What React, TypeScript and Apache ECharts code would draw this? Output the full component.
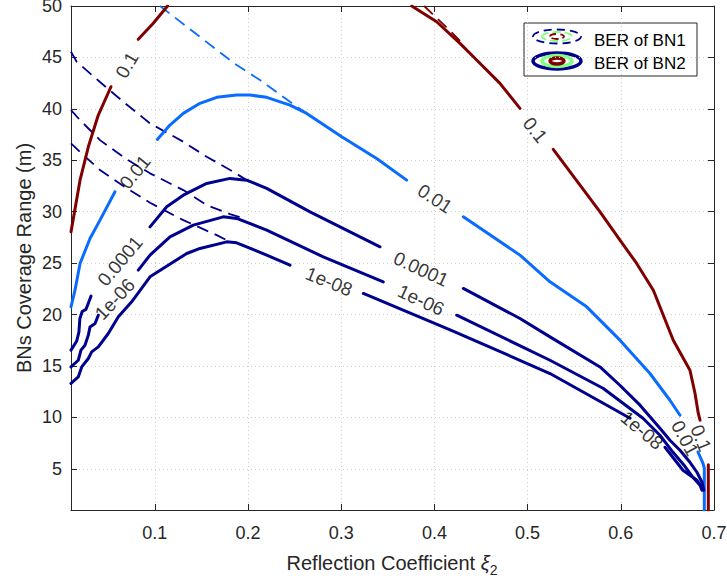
import React, { useEffect, useRef } from 'react';
import * as echarts from 'echarts';

const X_TICKS = [0.1, 0.2, 0.3, 0.4, 0.5, 0.6, 0.7];
const Y_TICKS = [5, 10, 15, 20, 25, 30, 35, 40, 45, 50];

// BN2 (solid) contour lines, split where the inline labels sit
const bn2Level0p1 = [
  [[0.010, 28.04], [0.0197, 33.07], [0.0286, 36.31], [0.0393, 39.40], [0.0529, 42.15]],
  [[0.0822, 46.76], [0.0983, 48.32], [0.1136, 50.0]],
  [[0.3756, 50.0], [0.4024, 48.47], [0.4274, 46.37], [0.4453, 44.75], [0.4703, 42.48], [0.4918, 40.05]],
  [[0.5275, 36.06], [0.5777, 29.99], [0.5991, 27.24], [0.6170, 24.97], [0.6349, 22.37], [0.6563, 17.51], [0.6742, 14.59], [0.6796, 12.35], [0.6831, 10.41], [0.6850, 9.73]],
  [[0.6939, 5.4], [0.6939, 1.0]],
];
const bn2Level0p01 = [
  [[0.010, 20.75], [0.0143, 22.37], [0.0197, 24.97], [0.0304, 27.40], [0.0411, 29.18], [0.0572, 31.94]],
  [[0.1026, 37.03], [0.1162, 38.42], [0.1305, 39.56], [0.1484, 40.54], [0.1664, 41.12], [0.1878, 41.34], [0.2021, 41.34], [0.2200, 41.12], [0.2450, 40.37], [0.2629, 39.56], [0.3005, 37.29], [0.3380, 35.18], [0.3702, 33.07]],
  [[0.4310, 29.50], [0.4918, 25.78], [0.5240, 23.18], [0.5634, 20.75], [0.5991, 17.51], [0.6313, 14.27], [0.6527, 11.67], [0.6635, 10.21]],
  [[0.6828, 6.64], [0.6882, 5.54], [0.6896, 5.06], [0.6896, 1.0]],
];
const bn2Level1em4 = [
  [[0.010, 16.54], [0.016, 17.4], [0.0185, 18.3], [0.0195, 19.6], [0.022, 20.3], [0.026, 20.5], [0.029, 21.2], [0.0315, 21.8]],
  [[0.0948, 28.53], [0.1127, 30.48], [0.1305, 31.61], [0.1556, 32.75], [0.1806, 33.24], [0.1985, 33.07], [0.2200, 32.27], [0.2665, 29.99], [0.3416, 26.59]],
  [[0.4310, 22.54], [0.4918, 19.62], [0.5240, 17.83], [0.5777, 14.91], [0.599, 13.13], [0.6206, 11.19], [0.642, 8.95], [0.6527, 7.78], [0.6635, 6.81], [0.6742, 5.64], [0.6817, 4.67], [0.6871, 3.70], [0.6892, 2.92]],
];
const bn2Level1em6 = [
  [[0.010, 14.91], [0.0178, 15.56], [0.0207, 16.54], [0.0250, 17.02], [0.0286, 18.00], [0.0304, 18.80], [0.0358, 19.13], [0.0393, 19.94]],
  [[0.0822, 24.32], [0.0948, 25.78], [0.1162, 27.56], [0.1412, 28.70], [0.1734, 29.50], [0.1878, 29.35], [0.2200, 28.21], [0.2807, 25.61], [0.3451, 23.18]],
  [[0.4239, 19.94], [0.5240, 15.56], [0.5809, 12.84], [0.6238, 9.92], [0.6420, 8.27], [0.6560, 6.61], [0.6688, 5.25], [0.6774, 4.18], [0.6850, 3.40], [0.6871, 2.92]],
];
const bn2Level1em8 = [
  [[0.010, 13.30], [0.0178, 13.94], [0.0215, 14.91], [0.0286, 15.73], [0.0322, 16.37], [0.0393, 16.86], [0.0500, 18.16], [0.0608, 19.78], [0.0751, 21.24], [0.0948, 23.67], [0.1342, 25.94], [0.1484, 26.43], [0.1771, 27.07], [0.1878, 26.98], [0.2200, 25.78], [0.2450, 24.81]],
  [[0.3237, 22.05], [0.4200, 18.40], [0.5240, 14.27], [0.5884, 11.02], [0.6099, 9.92]],
  [[0.6474, 7.10], [0.6667, 4.86], [0.6817, 3.89], [0.6871, 3.21]],
];

// BN1 (dashed) contour lines
const bn1Level0p1 = [[0.389, 50], [0.404, 48.7], [0.42, 47.3], [0.432, 46.2]];
const bn1Level0p01 = [[0.1055, 50], [0.1342, 47.99], [0.1860, 44.36], [0.2128, 42.80], [0.2450, 40.69], [0.2629, 39.56]];
const bn1Level1em4 = [[0.010, 45.55], [0.0161, 44.58], [0.0411, 42.61], [0.0679, 40.56], [0.0948, 38.59], [0.1305, 36.80], [0.1556, 35.34], [0.1842, 33.88], [0.1985, 33.07]];
const bn1Level1em6 = [[0.010, 39.88], [0.0197, 38.91], [0.0411, 36.96], [0.0679, 35.21], [0.0948, 33.73], [0.1305, 32.10], [0.1556, 30.64], [0.1806, 29.77], [0.1913, 29.47]];
const bn1Level1em8 = [[0.010, 36.64], [0.0197, 35.80], [0.0411, 34.05], [0.0679, 32.39], [0.0948, 30.87], [0.1305, 29.18], [0.1664, 27.72], [0.1806, 27.07]];

// Inline contour labels
const labelText = ['0.1', '0.01', '0.0001', '1e-06', '0.1', '0.01', '0.0001', '1e-06', '1e-08', '1e-08', '0.01', '0.1'];
const labelX = [0.0701, 0.0787, 0.0626, 0.057, 0.508, 0.4006, 0.3856, 0.3856, 0.2869, 0.6227, 0.6689, 0.686];
const labelY = [44.26, 33.85, 25.2, 21.5, 37.94, 31.27, 24.42, 21.4, 23.2, 8.75, 7.98, 8.0];
const labelAngle = [60, 51, 50, 47, -51, -33, -25, -25, -22, -40, -62, -68];

const RED = '#800000';
const LBLUE = '#0a6cff';
const DBLUE = '#00008f';
const GREEN = '#80ff80';
const AXIS = '#262626';
const FONT = '"Liberation Sans", Arial, Helvetica, sans-serif';

function segSeries(segs: number[][][], color: string) {
  return segs.map((d) => ({
    type: 'line',
    data: d,
    showSymbol: false,
    symbol: 'none',
    silent: true,
    z: 3,
    lineStyle: { color, width: 3, cap: 'round', join: 'round' },
  }));
}
function dashSeries(d: number[][], color: string) {
  return {
    type: 'line',
    data: d,
    showSymbol: false,
    symbol: 'none',
    silent: true,
    z: 2,
    lineStyle: { color, width: 1.8, type: [12, 7] },
  };
}

export default function App() {
  const ref = useRef<HTMLDivElement>(null);
  useEffect(() => {
    if (!ref.current) return;
    const chart = echarts.init(ref.current, null, { renderer: 'svg' });
    const series: any[] = [
      dashSeries(bn1Level0p1, RED),
      dashSeries(bn1Level0p01, LBLUE),
      dashSeries(bn1Level1em4, DBLUE),
      dashSeries(bn1Level1em6, DBLUE),
      dashSeries(bn1Level1em8, DBLUE),
      ...segSeries(bn2Level0p1, RED),
      ...segSeries(bn2Level0p01, LBLUE),
      ...segSeries(bn2Level1em4, DBLUE),
      ...segSeries(bn2Level1em6, DBLUE),
      ...segSeries(bn2Level1em8, DBLUE),
      {
        type: 'scatter',
        symbolSize: 0,
        silent: true,
        z: 5,
        data: labelText.map((t, i) => ({
          value: [labelX[i], labelY[i]],
          label: {
            show: true,
            position: 'inside',
            formatter: t,
            rotate: labelAngle[i],
            fontSize: 19,
            fontFamily: FONT,
            color: '#000',
          },
        })),
      },
    ];
    const axisCommon = {
      axisLine: { show: true, onZero: false, lineStyle: { color: AXIS, width: 1 } },
    };
    const graphicEls: any[] = [
      {
        type: 'text',
        x: 392,
        y: 563,
        style: {
          text: '{a|Reflection Coefficient }{x|ξ}{b|2}',
          align: 'center',
          verticalAlign: 'middle',
          rich: {
            a: { fontSize: 20, fontFamily: FONT, fill: AXIS },
            x: { fontSize: 20, fontFamily: FONT, fill: AXIS, fontStyle: 'italic' },
            b: { fontSize: 14, fontFamily: FONT, fill: AXIS, padding: [14, 0, 0, 0] },
          },
        },
      },
      {
        type: 'text',
        x: 24,
        y: 258,
        rotation: Math.PI / 2,
        style: { text: 'BNs Coverage Range (m)', font: `20px ${FONT}`, fill: AXIS, align: 'center', verticalAlign: 'middle' },
      },
      {
        type: 'group',
        z: 100,
        children: [
          { type: 'rect', shape: { x: 524, y: 23, width: 173, height: 53 }, style: { fill: '#fff', stroke: AXIS, lineWidth: 1 } },
          { type: 'ellipse', shape: { cx: 557, cy: 36.5, rx: 24, ry: 7 }, style: { fill: 'none', stroke: DBLUE, lineWidth: 1.8, lineDash: [8, 5] } },
          { type: 'ellipse', shape: { cx: 557, cy: 36.5, rx: 15, ry: 4.5 }, style: { fill: 'none', stroke: GREEN, lineWidth: 1.8, lineDash: [8, 4] } },
          { type: 'ellipse', shape: { cx: 557, cy: 36.5, rx: 7, ry: 2.5 }, style: { fill: 'none', stroke: RED, lineWidth: 1.8, lineDash: [7, 4] } },
          { type: 'ellipse', shape: { cx: 557, cy: 61, rx: 24, ry: 8 }, style: { fill: 'none', stroke: DBLUE, lineWidth: 3.5 } },
          { type: 'ellipse', shape: { cx: 557, cy: 61, rx: 15, ry: 5.5 }, style: { fill: 'none', stroke: GREEN, lineWidth: 3.5 } },
          { type: 'ellipse', shape: { cx: 557, cy: 61, rx: 7, ry: 3 }, style: { fill: 'none', stroke: RED, lineWidth: 3.5 } },
          { type: 'text', x: 594, y: 40, style: { text: 'BER of BN1', font: `17px ${FONT}`, fill: '#000', verticalAlign: 'middle' } },
          { type: 'text', x: 594, y: 63, style: { text: 'BER of BN2', font: `17px ${FONT}`, fill: '#000', verticalAlign: 'middle' } },
        ],
      },
    ];
    chart.setOption({
      animation: false,
      backgroundColor: '#ffffff',
      grid: { left: 71, right: 13, top: 6, bottom: 74, containLabel: false, outerBoundsMode: 'none' },
      xAxis: [
        {
          type: 'value', min: 0.01, max: 0.7, position: 'bottom', ...axisCommon,
          axisTick: { show: true, inside: true, length: 6, customValues: X_TICKS, lineStyle: { color: AXIS } },
          axisLabel: { customValues: X_TICKS, fontSize: 18, fontFamily: FONT, color: AXIS, margin: 14, formatter: (v: number) => String(v) },
          splitLine: { show: true, lineStyle: { type: [1, 3], color: '#cfcfcf' } },
        },
        {
          type: 'value', min: 0.01, max: 0.7, position: 'top', ...axisCommon,
          axisTick: { show: true, inside: true, length: 6, customValues: X_TICKS, lineStyle: { color: AXIS } },
          axisLabel: { show: false }, splitLine: { show: false },
        },
      ],
      yAxis: [
        {
          type: 'value', min: 1, max: 50, position: 'left', ...axisCommon,
          axisTick: { show: true, inside: true, length: 6, customValues: Y_TICKS, lineStyle: { color: AXIS } },
          axisLabel: { customValues: Y_TICKS, fontSize: 18, fontFamily: FONT, color: AXIS, margin: 9, formatter: (v: number) => String(v) },
          splitLine: { show: true, lineStyle: { type: [1, 3], color: '#cfcfcf' } },
        },
        {
          type: 'value', min: 1, max: 50, position: 'right', ...axisCommon,
          axisTick: { show: true, inside: true, length: 6, customValues: Y_TICKS, lineStyle: { color: AXIS } },
          axisLabel: { show: false }, splitLine: { show: false },
        },
      ],
      series,
      graphic: graphicEls,
    });
    return () => chart.dispose();
  }, []);
  return <div ref={ref} style={{ position: 'absolute', left: 0, top: 0, width: 727, height: 584 }} />;
}
